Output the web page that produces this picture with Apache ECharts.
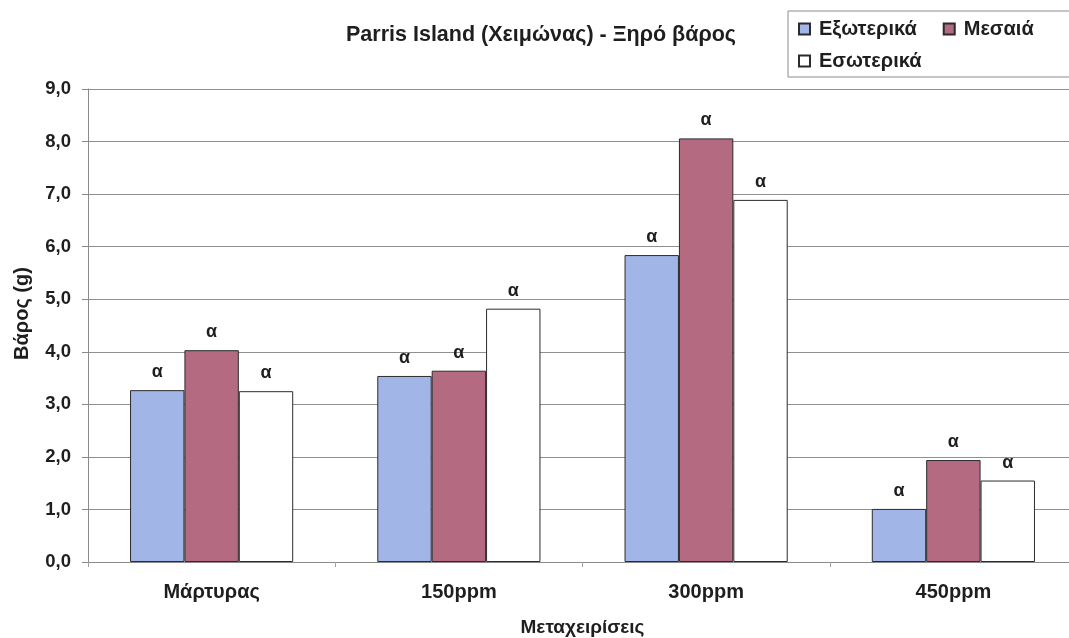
<!DOCTYPE html>
<html>
<head>
<meta charset="utf-8">
<script src="https://cdn.jsdelivr.net/npm/echarts@6/dist/echarts.min.js"></script>
<style>
  html, body { margin: 0; padding: 0; background: #ffffff; }
  #chart { width: 1069px; height: 638px; }
</style>
</head>
<body>
<div id="chart"></div>
<script>
// Treatments on the x axis
const categories = ['Μάρτυρας', '150ppm', '300ppm', '450ppm'];

// Dry weight (g) per leaf position
const outerLeaves = [3.27, 3.54, 5.84, 1.01];   // Εξωτερικά
const middleLeaves = [4.03, 3.64, 8.06, 1.94];  // Μεσαιά
const innerLeaves = [3.25, 4.82, 6.89, 1.55];   // Εσωτερικά

// Significance letter above each bar
const sigLetters = {
  outer: ['α', 'α', 'α', 'α'],
  middle: ['α', 'α', 'α', 'α'],
  inner: ['α', 'α', 'α', 'α']
};

const seriesNames = ['Εξωτερικά', 'Μεσαιά', 'Εσωτερικά'];
const titleText = 'Parris Island (Χειμώνας) - Ξηρό βάρος';
const yAxisTitle = 'Βάρος (g)';
const xAxisTitle = 'Μεταχειρίσεις';

const FONT = '"Liberation Sans", Arial, sans-serif';
const TEXT = '#1e1e1e';

const legendText = {
  fontFamily: FONT, fontWeight: 'bold', fontSize: 20, color: TEXT, padding: [0, 0, 0, 4]
};

function barSeries(name, values, letters, color) {
  return {
    name: name,
    type: 'bar',
    data: values,
    barGap: '0%',
    barCategoryGap: '34%',
    itemStyle: { color: color, borderColor: '#2b2b2b', borderWidth: 1 },
    label: {
      show: true,
      position: 'top',
      distance: 9,
      formatter: p => letters[p.dataIndex],
      fontFamily: FONT,
      fontWeight: 'bold',
      fontSize: 18,
      color: TEXT
    }
  };
}

const chart = echarts.init(document.getElementById('chart'), null, { renderer: 'canvas' });

chart.setOption({
  backgroundColor: '#ffffff',
  animation: false,
  title: {
    text: titleText,
    left: 536,
    textAlign: 'center',
    top: 19,
    textStyle: { fontFamily: FONT, fontWeight: 'bold', fontSize: 21.5, color: TEXT }
  },
  // Legend laid out on two rows: the framed first row, and the last entry below it
  legend: [
    {
      data: seriesNames.slice(0, 2),
      left: 788,
      top: 11,
      width: 360,
      orient: 'horizontal',
      icon: 'rect',
      itemWidth: 11,
      itemHeight: 11,
      itemGap: 26,
      padding: [8, 70, 38, 10],
      borderColor: '#8c8c8c',
      borderWidth: 1,
      textStyle: legendText
    },
    {
      data: seriesNames.slice(2),
      left: 798,
      top: 51,
      width: 200,
      orient: 'horizontal',
      icon: 'rect',
      itemWidth: 11,
      itemHeight: 11,
      padding: 0,
      textStyle: legendText
    }
  ],
  grid: { left: 88, top: 89, width: 989, bottom: 76, containLabel: false, outerBoundsMode: 'none' },
  xAxis: {
    type: 'category',
    data: categories,
    name: xAxisTitle,
    nameLocation: 'middle',
    nameGap: 56,
    nameTextStyle: { fontFamily: FONT, fontWeight: 'bold', fontSize: 19, color: TEXT },
    axisLine: { lineStyle: { color: '#8a8a8a', width: 1 } },
    axisTick: { show: true, alignWithLabel: false, length: 5, lineStyle: { color: '#a0a0a0' } },
    axisLabel: { margin: 20, fontFamily: FONT, fontWeight: 'bold', fontSize: 20, color: TEXT }
  },
  yAxis: {
    type: 'value',
    min: 0,
    max: 9,
    interval: 1,
    name: yAxisTitle,
    nameLocation: 'middle',
    nameRotate: 90,
    nameGap: 56,
    nameTextStyle: { fontFamily: FONT, fontWeight: 'bold', fontSize: 20, color: TEXT, padding: [0, 0, 0, 24] },
    axisLine: { show: true, lineStyle: { color: '#8a8a8a', width: 1 } },
    axisTick: { show: true, length: 6, lineStyle: { color: '#8a8a8a' } },
    axisLabel: {
      margin: 17,
      fontFamily: FONT,
      fontWeight: 'bold',
      fontSize: 18.5,
      color: TEXT,
      formatter: v => v.toFixed(1).replace('.', ',')
    },
    splitLine: { show: true, lineStyle: { color: '#8f8f8f', width: 1 } }
  },
  series: [
    barSeries(seriesNames[0], outerLeaves, sigLetters.outer, '#a1b5e6'),
    barSeries(seriesNames[1], middleLeaves, sigLetters.middle, '#b46b82'),
    barSeries(seriesNames[2], innerLeaves, sigLetters.inner, '#ffffff')
  ]
});
</script>
</body>
</html>
